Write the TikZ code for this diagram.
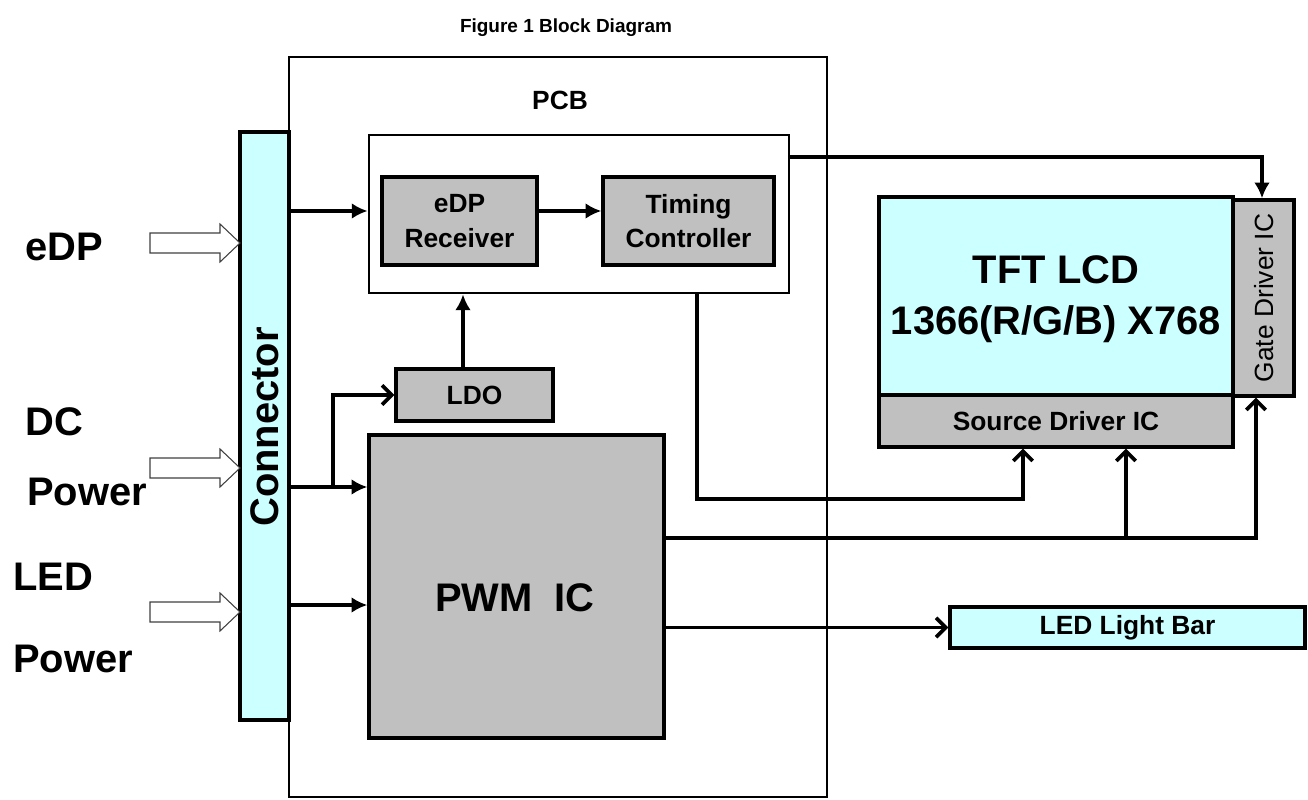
\documentclass[tikz,border=0pt]{standalone}
\usepackage{fontspec}
\setmainfont{Liberation Sans}
\usetikzlibrary{fit,arrows.meta}
\definecolor{lcyan}{HTML}{CCFFFF}
\definecolor{gbox}{HTML}{C0C0C0}
\begin{document}
\begin{tikzpicture}[x=0.02cm,y=-0.02cm,
  box/.style={draw, line width=1.9pt, inner sep=0pt},
  graybox/.style={box, fill=gbox},
  cyanbox/.style={box, fill=lcyan},
  midtxt/.style={font=\fontsize{15}{19.5}\selectfont\bfseries, inner sep=0pt, align=center},
  bigtxt/.style={font=\fontsize{22.7}{29}\selectfont\bfseries, inner sep=0pt, align=center},
  conn/.style={line width=2.1pt, -{Latex[length=9pt,width=9pt]}},
  openconn/.style={line width=2.1pt, -{Straight Barb[length=5.5pt,width=11pt]}},
  hollow/.style={draw=black!75, line width=0.6pt, fill=white, line join=miter}]

\useasboundingbox (0,0) rectangle (1308,800);

% title
\node[font=\fontsize{10.8}{13}\selectfont\bfseries] (title) at (566,28) {Figure 1 Block Diagram};

% boxes
\node[box, line width=1.6pt, fit={(289,57) (827,797)}] (pcb) {};
\node[midtxt] (pcblbl) at (560,100) {PCB};
\node[cyanbox, fit={(240,132) (289,720)}] (conn) {};
\node[bigtxt, rotate=90] (connlbl) at (265,427) {Connector};
\node[box, fill=white, line width=1.6pt, fit={(369,135) (789,293)}] (cont) {};
\node[graybox, fit={(382,177) (537,265)}] (recv) {};
\node[midtxt] (recvlbl) at (recv.center) {eDP\\Receiver};
\node[graybox, fit={(603,177) (774,265)}] (tcon) {};
\node[midtxt] (tconlbl) at (tcon.center) {Timing\\Controller};
\node[graybox, fit={(396,369) (553,421)}] (ldo) {};
\node[midtxt] (ldolbl) at (ldo.center) {LDO};
\node[graybox, fit={(369,435) (664,738)}] (pwm) {};
\node[bigtxt] (pwmlbl) at (515,598) {PWM\ \ IC};
\node[cyanbox, fit={(879,197) (1233,395)}] (tft) {};
\node[bigtxt] (tftlbl) at (1056,299) {TFT LCD\\1366(R/G/B) X768};
\node[graybox, fit={(879,395) (1233,447)}] (src) {};
\node[midtxt] (srclbl) at (src.center) {Source Driver IC};
\node[graybox, fit={(1233,200) (1294,396)}] (gate) {};
\node[midtxt, font=\fontsize{15}{19.5}\selectfont, rotate=90] (gatelbl) at (1264,298) {Gate Driver IC};
\node[cyanbox, fit={(950,607) (1305,648)}] (led) {};
\node[midtxt] (ledlbl) at (led.center) {LED Light Bar};

% left labels
\node[bigtxt, anchor=base west] (l1) at (25,261) {eDP};
\node[bigtxt, anchor=base west] (l2) at (25,435) {DC};
\node[bigtxt, anchor=base west] (l3) at (27,505) {Power};
\node[bigtxt, anchor=base west] (l4) at (13,590) {LED};
\node[bigtxt, anchor=base west] (l5) at (13,672) {Power};

% hollow input arrows
\draw[hollow] (150,233) -- (220,233) -- (220,224) -- (240,243) -- (220,262) -- (220,253) -- (150,253) -- cycle;
\draw[hollow] (150,458) -- (220,458) -- (220,449) -- (240,468) -- (220,487) -- (220,478) -- (150,478) -- cycle;
\draw[hollow] (150,602) -- (220,602) -- (220,593) -- (240,612) -- (220,631) -- (220,622) -- (150,622) -- cycle;

% helper coordinates
\coordinate (yEdp) at (0,211);
\coordinate (yTop) at (0,157);
\coordinate (yDC) at (0,487);
\coordinate (yLED) at (0,605);
\coordinate (yTS) at (0,499);
\coordinate (yPG) at (0,538);
\coordinate (xLdo) at (463,0);
\coordinate (xBr) at (333,0);
\coordinate (xT) at (697,0);
\coordinate (xS1) at (1023,0);
\coordinate (xS2) at (1126,0);
\coordinate (xG) at (1256,0);
\coordinate (xGt) at (1262,0);

% connectors
\draw[conn] (conn.east |- yEdp) -- (cont.west |- yEdp);
\draw[conn] (recv.east |- yEdp) -- (tcon.west |- yEdp);
\draw[conn] (cont.east |- yTop) -| (gate.north -| xGt);
\draw[conn] (ldo.north -| xLdo) -- (cont.south -| xLdo);
\draw[conn] (conn.east |- yDC) -- (pwm.west |- yDC);
\draw[openconn] (xBr |- yDC) |- (ldo.west);
\draw[conn] (conn.east |- yLED) -- (pwm.west |- yLED);
\draw[openconn] (cont.south -| xT) -- (xT |- yTS) -| (src.south -| xS1);
\draw[openconn] (pwm.east |- yPG) -| (gate.south -| xG);
\draw[openconn] (xS2 |- yPG) -- (src.south -| xS2);
\draw[openconn] (pwm.east |- led.west) -- (led.west);
\end{tikzpicture}
\end{document}
